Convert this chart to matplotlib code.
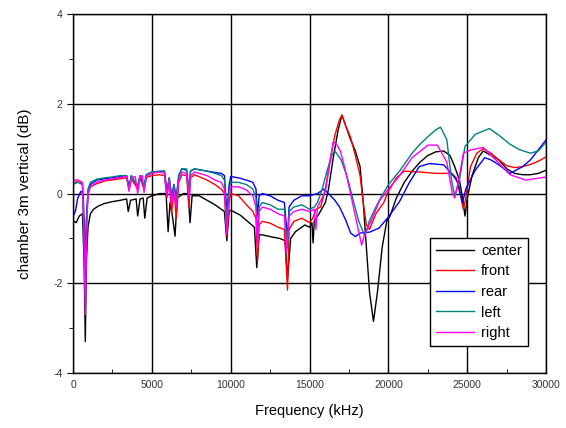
import matplotlib
matplotlib.use("Agg")
import matplotlib.pyplot as plt
from matplotlib.ticker import MultipleLocator

# frequency (kHz) / level (dB), one pair of lists per position
center_f = [0, 200, 400, 600, 700, 780, 850, 950, 1100, 1300, 1600, 2000, 2500, 3000, 3400, 3500, 3650,
            4000, 4100, 4250, 4450, 4550, 4700, 5000, 5500, 5900, 6030, 6150, 6300, 6470, 6600, 7000,
            7300, 7420, 7550, 8000, 8500, 9000, 9400, 9600, 9750, 9900, 10000, 10600, 11200, 11500,
            11650, 11800, 12000, 12500, 13100, 13450, 13600, 13800, 14100, 14700, 15000, 15150, 15220,
            15300, 15600, 16000, 16200, 16500, 16800, 17050, 17300, 17600, 17900, 18200, 18400, 18600,
            18800, 19050, 19300, 19600, 19900, 20100, 20500, 21000, 21500, 22000, 22500, 23000, 23500,
            23900, 24200, 24500, 24700, 24850, 25000, 25300, 25700, 26000, 26500, 27000, 27500, 28000,
            28500, 29000, 29500, 30000]
center_db = [-0.6, -0.65, -0.5, -0.45, -1.5, -3.3, -1.5, -0.75, -0.45, -0.35, -0.28, -0.22, -0.18, -0.15,
             -0.12, -0.4, -0.15, -0.12, -0.5, -0.12, -0.1, -0.55, -0.1, -0.05, 0.0, 0.0, -0.85, -0.2, -0.5,
             -0.95, -0.1, 0.0, 0.0, -0.65, -0.05, -0.05, -0.15, -0.25, -0.35, -0.4, -1.05, -0.4, -0.37,
             -0.48, -0.66, -0.75, -1.65, -0.92, -0.92, -0.96, -1.0, -1.05, -1.9, -1.0, -0.85, -0.7, -0.75,
             -0.65, -1.1, -0.6, -0.45, -0.2, 0.1, 0.8, 1.4, 1.75, 1.5, 1.2, 0.95, 0.6, -0.2, -1.2, -2.2,
             -2.85, -2.2, -1.2, -0.6, -0.5, -0.1, 0.25, 0.5, 0.7, 0.85, 0.93, 0.95, 0.85, 0.6, 0.3, -0.1,
             -0.5, -0.1, 0.4, 0.8, 0.95, 0.85, 0.75, 0.55, 0.45, 0.42, 0.42, 0.45, 0.52]

front_f = [0, 300, 600, 700, 780, 850, 950, 1100, 1500, 2000, 3000, 3400, 3550, 3700, 4100, 4250, 4500,
           4650, 5000, 5500, 5800, 5950, 6100, 6250, 6400, 6550, 6700, 6900, 7200, 7350, 7450, 7700, 8500,
           9000, 9400, 9600, 9750, 9900, 10000, 10500, 11000, 11400, 11600, 11700, 11800, 12000, 12500,
           13000, 13400, 13600, 13700, 14000, 14500, 15000, 15200, 15400, 15700, 16000, 16300, 16600,
           16900, 17050, 17300, 17600, 17900, 18200, 18400, 18600, 18800, 19200, 19700, 20000, 20500,
           21000, 22000, 23000, 24000, 24300, 24600, 24750, 24900, 25200, 25600, 26000, 26500, 27000,
           27500, 28000, 28500, 29000, 29500, 30000]
front_db = [0.2, 0.3, 0.22, -0.8, -1.7, -0.6, 0.0, 0.15, 0.22, 0.28, 0.33, 0.35, 0.1, 0.33, 0.1, 0.35,
            0.1, 0.36, 0.4, 0.42, 0.4, -0.1, 0.3, -0.45, 0.1, -0.55, 0.25, 0.42, 0.4, -0.3, 0.35, 0.42,
            0.3, 0.2, 0.1, 0.0, -0.95, -0.2, 0.0, -0.05, -0.25, -0.4, -0.55, -1.5, -0.7, -0.62, -0.66,
            -0.75, -0.8, -2.15, -0.8, -0.62, -0.55, -0.65, -0.55, -0.35, -0.3, 0.1, 0.75, 1.3, 1.65, 1.75,
            1.5, 1.25, 0.85, 0.4, -0.2, -0.7, -0.8, -0.45, -0.2, 0.05, 0.35, 0.5, 0.48, 0.45, 0.45, 0.35,
            -0.1, -0.35, -0.1, 0.6, 0.9, 1.0, 0.9, 0.75, 0.62, 0.58, 0.6, 0.65, 0.72, 0.82]

rear_f = [0, 150, 300, 500, 650, 720, 780, 850, 950, 1100, 1500, 2000, 3000, 3400, 3550, 3700, 4100,
          4250, 4500, 4650, 5000, 5800, 5950, 6100, 6250, 6400, 6550, 6700, 6900, 7200, 7350, 7450, 7700,
          8500, 9000, 9400, 9600, 9750, 9900, 10000, 10500, 11000, 11400, 11600, 11700, 11800, 12000,
          12500, 13000, 13400, 13600, 13700, 14000, 14500, 15000, 15500, 15900, 16200, 16600, 16900,
          17300, 17600, 17900, 18200, 18800, 19400, 20000, 20700, 21300, 21950, 22600, 23500, 24000,
          24400, 24700, 24900, 25500, 26100, 26500, 27000, 27700, 28500, 29000, 30000]
rear_db = [-0.5, -0.4, -0.1, 0.05, 0.0, -0.9, -2.0, -0.6, 0.05, 0.2, 0.3, 0.33, 0.38, 0.4, 0.15, 0.4,
           0.15, 0.4, 0.15, 0.42, 0.48, 0.5, 0.05, 0.35, -0.05, 0.2, -0.1, 0.4, 0.55, 0.52, 0.05, 0.5,
           0.55, 0.5, 0.47, 0.45, 0.4, -0.4, 0.2, 0.38, 0.35, 0.3, 0.25, 0.1, -0.5, -0.05, 0.0, -0.05,
           -0.15, -0.2, -1.0, -0.3, -0.15, -0.05, -0.05, 0.0, 0.1, 0.0, -0.15, -0.3, -0.6, -0.88, -0.96,
           -0.88, -0.86, -0.77, -0.52, -0.18, 0.23, 0.6, 0.67, 0.64, 0.45, 0.25, -0.2, 0.1, 0.52, 0.8,
           0.75, 0.64, 0.45, 0.6, 0.75, 1.2]

left_f = [0, 300, 600, 700, 780, 850, 950, 1100, 1500, 2000, 2500, 3000, 3400, 3550, 3700, 4100, 4250,
          4500, 4650, 5000, 5500, 5800, 5950, 6100, 6250, 6400, 6550, 6700, 6900, 7200, 7350, 7450, 7700,
          8500, 9000, 9400, 9600, 9750, 9900, 10000, 10500, 11000, 11400, 11600, 11700, 11800, 12000,
          12500, 13000, 13400, 13600, 13700, 14000, 14500, 15000, 15300, 15500, 15800, 16100, 16400,
          16600, 17000, 17400, 17800, 18100, 18500, 18800, 19200, 19500, 20000, 20700, 21500, 22000,
          22600, 23000, 23300, 23700, 24000, 24200, 24500, 24850, 25500, 26400, 27000, 27700, 28300,
          29000, 29500, 30000]
left_db = [0.2, 0.25, 0.2, -1.0, -2.3, -0.8, 0.1, 0.25, 0.32, 0.35, 0.37, 0.4, 0.4, 0.1, 0.4, 0.15, 0.4,
           0.15, 0.42, 0.48, 0.5, 0.5, 0.0, 0.35, -0.1, 0.2, -0.15, 0.4, 0.55, 0.55, 0.0, 0.5, 0.55, 0.5,
           0.45, 0.4, 0.3, -0.6, 0.1, 0.25, 0.25, 0.2, 0.1, -0.1, -1.0, -0.3, -0.2, -0.25, -0.35, -0.35,
           -1.2, -0.4, -0.3, -0.25, -0.35, -0.3, -0.2, 0.1, 0.5, 0.85, 0.95, 0.75, 0.35, -0.2, -0.6, -0.95,
           -0.6, -0.3, -0.1, 0.2, 0.5, 0.9, 1.1, 1.3, 1.42, 1.48, 1.2, 0.3, -0.05, 0.3, 1.05, 1.32, 1.45,
           1.3, 1.1, 0.98, 0.9, 0.95, 1.15]

right_f = [0, 300, 600, 700, 780, 850, 950, 1100, 1500, 2000, 2500, 3000, 3400, 3550, 3700, 3950, 4100,
           4250, 4400, 4500, 4650, 5000, 5500, 5800, 5950, 6100, 6250, 6400, 6550, 6700, 6900, 7200, 7350,
           7450, 7700, 8500, 9000, 9400, 9600, 9750, 9900, 10000, 10500, 11000, 11400, 11600, 11700,
           11800, 12000, 12500, 13000, 13400, 13550, 13700, 14000, 14500, 15000, 15300, 15400, 15500,
           16000, 16300, 16500, 16700, 16950, 17250, 17550, 17900, 18300, 18500, 18850, 19450, 20100,
           20600, 21500, 22500, 23100, 23700, 24050, 24200, 24450, 24750, 25200, 26000, 26800, 27700,
           28700, 30000]
right_db = [0.3, 0.3, 0.25, -1.0, -2.7, -1.0, 0.0, 0.15, 0.25, 0.3, 0.33, 0.36, 0.38, 0.05, 0.35, 0.38,
            0.0, 0.37, 0.4, 0.02, 0.38, 0.45, 0.48, 0.45, -0.05, 0.3, -0.25, 0.1, -0.3, 0.3, 0.48, 0.45,
            -0.1, 0.4, 0.48, 0.4, 0.3, 0.25, 0.1, -0.9, -0.1, 0.15, 0.15, 0.08, -0.05, -0.3, -1.2, -0.4,
            -0.3, -0.35, -0.45, -0.5, -1.3, -0.5, -0.4, -0.35, -0.4, -0.35, -0.8, -0.3, 0.05, 0.7, 1.15,
            1.1, 0.95, 0.55, 0.07, -0.5, -1.15, -0.9, -0.65, -0.15, 0.15, 0.35, 0.8, 1.08, 1.08, 0.7, 0.0,
            -0.1, 0.3, 0.9, 0.97, 1.03, 0.75, 0.42, 0.3, 0.37]

SERIES = [("center", center_f, center_db, "black"),
          ("front", front_f, front_db, "#ff0000"),
          ("rear", rear_f, rear_db, "#0000ff"),
          ("left", left_f, left_db, "#008080"),
          ("right", right_f, right_db, "#ff00ff")]

plt.rcParams["font.family"] = ["Liberation Sans", "DejaVu Sans"]
plt.rcParams["axes.unicode_minus"] = False

fig = plt.figure(figsize=(5.66, 4.28), dpi=100)
ax = fig.add_axes([0.129, 0.1285, 0.836, 0.8385])

for name, f, db, col in SERIES:
    ax.plot(f, db, color=col, lw=1.0, label=name)

ax.set_xlim(0, 30000)
ax.set_ylim(-4, 4)
ax.xaxis.set_major_locator(MultipleLocator(5000))
ax.xaxis.set_minor_locator(MultipleLocator(2500))
ax.yaxis.set_major_locator(MultipleLocator(2))
ax.yaxis.set_minor_locator(MultipleLocator(1))
ax.grid(True, which="major", color="black", lw=1.0)
ax.set_axisbelow(True)
ax.tick_params(axis="x", which="both", direction="in", labelsize=7.5, colors="black",
               labelcolor="#333333", pad=5)
ax.tick_params(axis="y", which="both", direction="out", labelsize=7.5, colors="black",
               labelcolor="#333333")
ax.tick_params(which="major", length=4)
ax.tick_params(which="minor", length=3)
for s in ax.spines.values():
    s.set_color("black")
    s.set_linewidth(1.0)

ax.set_xlabel("Frequency (kHz)", fontsize=10.5, labelpad=10)
ax.set_ylabel("chamber 3m vertical (dB)", fontsize=11, labelpad=15)

leg = ax.legend(loc="lower right", bbox_to_anchor=(0.976, 0.055), fontsize=10.5, frameon=True,
                fancybox=False, edgecolor="black", framealpha=1, handlelength=2.6,
                labelspacing=0.45, borderpad=0.4, handletextpad=0.5)
leg.get_frame().set_linewidth(1.0)

fig.savefig("out.png", dpi=100, facecolor="white")
